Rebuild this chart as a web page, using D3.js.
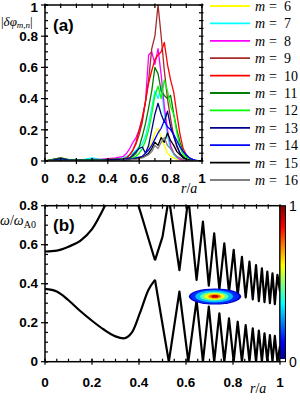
<!DOCTYPE html>
<html lang="en">
<head>
<meta charset="UTF-8">
<title>Mode amplitudes and continuum</title>
<script src="https://cdn.jsdelivr.net/npm/d3@7"></script>
<style>
    body { margin: 0; background: #fff; }
    svg { display: block; }
    .tk { font: bold 13.5px "Liberation Sans", Arial, sans-serif; fill: #000; }
    .mt { font: 14px "Liberation Serif", "DejaVu Serif", serif; fill: #000; }
</style>
</head>
<body>
<div id="chart"></div>
<script>
    // ---- panel (a): |dphi_{m,n}| versus r/a ----
    const rA = [0, 0.05, 0.1, 0.15, 0.2, 0.25, 0.3, 0.35, 0.4, 0.45,
        0.5, 0.52, 0.54, 0.56, 0.58, 0.6, 0.62, 0.64, 0.66, 0.68, 0.7, 0.72, 0.74, 0.76, 0.78,
        0.8, 0.82, 0.84, 0.86, 0.88, 0.9, 0.92, 0.94, 0.96, 0.98, 1];
    const mValues = [6, 7, 8, 9, 10, 11, 12, 13, 14, 15, 16];
    const mColors = ["#ffff00", "#00ffff", "#ff00ff", "#a52a2a", "#ff0000", "#008000",
        "#00ff00", "#00008b", "#0000ff", "#000000", "#808080"];
    const amp6 = [0, 0, 0.005, 0, 0, 0, 0.005, 0, 0, 0.005,
        0.005, 0.005, 0.01, 0.01, 0.015, 0.02, 0.03, 0.05, 0.08, 0.12, 0.18, 0.21, 0.15, 0.1, 0.05,
        0.03, 0.02, 0.01, 0.005, 0, 0, 0, 0, 0, 0, 0];
    const amp7 = [0, 0.005, 0.01, 0.005, 0.005, 0.01, 0.02, 0.01, 0.01, 0.015,
        0.02, 0.03, 0.04, 0.05, 0.07, 0.09, 0.11, 0.16, 0.24, 0.34, 0.45, 0.4, 0.48, 0.3, 0.16,
        0.08, 0.04, 0.02, 0.01, 0.005, 0, 0, 0, 0, 0, 0];
    const amp8 = [0, 0.005, 0.01, 0.005, 0.005, 0.005, 0.01, 0.01, 0.015, 0.02,
        0.03, 0.05, 0.08, 0.12, 0.15, 0.2, 0.27, 0.38, 0.68, 0.7, 0.62, 0.72, 0.55, 0.35, 0.2,
        0.1, 0.05, 0.025, 0.01, 0.005, 0, 0, 0, 0, 0, 0];
    const amp9 = [0, 0.01, 0.02, 0.005, 0.005, 0.005, 0.01, 0.005, 0.01, 0.01,
        0.015, 0.02, 0.04, 0.07, 0.11, 0.17, 0.25, 0.38, 0.52, 0.72, 0.8, 1.0, 0.8, 0.58, 0.4,
        0.27, 0.16, 0.09, 0.05, 0.025, 0.01, 0.005, 0, 0, 0, 0];
    const amp10 = [0, 0.005, 0.01, 0.005, 0.005, 0.005, 0.005, 0.005, 0.01, 0.01,
        0.01, 0.02, 0.04, 0.07, 0.12, 0.2, 0.28, 0.38, 0.5, 0.58, 0.65, 0.68, 0.7, 0.76, 0.62,
        0.52, 0.44, 0.3, 0.17, 0.08, 0.04, 0.02, 0.01, 0, 0, 0];
    const amp11 = [0, 0.01, 0.02, 0.01, 0.005, 0.005, 0.01, 0.005, 0.01, 0.01,
        0.01, 0.015, 0.02, 0.03, 0.05, 0.09, 0.16, 0.24, 0.34, 0.45, 0.6, 0.56, 0.45, 0.42, 0.4,
        0.42, 0.3, 0.2, 0.12, 0.06, 0.03, 0.015, 0.01, 0, 0, 0];
    const amp12 = [0, 0.005, 0.01, 0.005, 0.005, 0.005, 0.005, 0.005, 0.005, 0.01,
        0.01, 0.01, 0.015, 0.02, 0.03, 0.05, 0.08, 0.13, 0.2, 0.3, 0.42, 0.48, 0.4, 0.52, 0.45,
        0.35, 0.3, 0.18, 0.09, 0.04, 0.02, 0.01, 0, 0, 0, 0];
    const amp13 = [0, 0.005, 0.015, 0.005, 0.005, 0.005, 0.005, 0.005, 0.005, 0.01,
        0.01, 0.015, 0.02, 0.04, 0.06, 0.08, 0.09, 0.05, 0.1, 0.2, 0.3, 0.37, 0.3, 0.25, 0.32,
        0.22, 0.16, 0.1, 0.05, 0.025, 0.01, 0.005, 0, 0, 0, 0];
    const amp14 = [0, 0, 0.005, 0, 0, 0, 0, 0, 0.005, 0.005,
        0.005, 0.01, 0.01, 0.015, 0.02, 0.025, 0.03, 0.05, 0.07, 0.1, 0.14, 0.18, 0.21, 0.26, 0.22,
        0.2, 0.17, 0.13, 0.09, 0.06, 0.04, 0.02, 0.01, 0.005, 0, 0];
    const amp15 = [0, 0, 0, 0, 0, 0, 0, 0, 0.005, 0.005,
        0.005, 0.005, 0.01, 0.01, 0.015, 0.02, 0.025, 0.035, 0.05, 0.08, 0.12, 0.1, 0.15, 0.12, 0.18,
        0.13, 0.1, 0.06, 0.04, 0.02, 0.01, 0.005, 0, 0, 0, 0];
    const amp16 = [0, 0, 0, 0, 0, 0, 0, 0, 0, 0,
        0.005, 0.005, 0.005, 0.01, 0.01, 0.015, 0.02, 0.03, 0.04, 0.06, 0.1, 0.08, 0.12, 0.15, 0.1,
        0.08, 0.05, 0.03, 0.02, 0.01, 0.005, 0, 0, 0, 0, 0];
    const ampAll = [amp6, amp7, amp8, amp9, amp10, amp11, amp12, amp13, amp14, amp15, amp16];

    // ---- panel (b): continuum boundaries and mode intensity ----
    const rUp = [0, 0.05, 0.1, 0.15, 0.2, 0.255, 0.3, 0.35, 0.395, 0.433, 0.468, 0.5, 0.527, 0.572,
        0.61, 0.645, 0.672, 0.697, 0.72, 0.742, 0.763, 0.783, 0.803, 0.82, 0.838, 0.854, 0.87,
        0.884, 0.898, 0.91, 0.923, 0.934, 0.946, 0.957, 0.968, 0.978, 0.989, 1.0];
    const wUp = [0.565, 0.57, 0.59, 0.62, 0.68, 0.8, 0.92, 0.95, 0.81, 0.66, 0.52, 0.64, 0.84, 0.47,
        0.84, 0.42, 0.718, 0.39, 0.658, 0.37, 0.607, 0.355, 0.573, 0.34, 0.538, 0.33, 0.513,
        0.32, 0.496, 0.31, 0.479, 0.305, 0.462, 0.3, 0.453, 0.295, 0.445, 0.36];
    const rLow = [0, 0.05, 0.1, 0.15, 0.2, 0.25, 0.3, 0.335, 0.37, 0.404, 0.44, 0.468, 0.527, 0.572,
        0.61, 0.645, 0.672, 0.697, 0.72, 0.742, 0.763, 0.783, 0.803, 0.82, 0.838, 0.854, 0.87,
        0.884, 0.898, 0.91, 0.923, 0.934, 0.946, 0.957, 0.968, 0.978, 0.989, 1.0];
    const wLow = [0.373, 0.36, 0.315, 0.26, 0.21, 0.165, 0.13, 0.12, 0.15, 0.25, 0.368, 0.42, 0, 0.36,
        0, 0.316, 0, 0.282, 0, 0.248, 0, 0.222, 0, 0.205, 0, 0.188, 0,
        0.171, 0, 0.159, 0, 0.146, 0, 0.137, 0, 0.132, 0, 0.08];

    // contour levels of the mode intensity (nested, outer first)
    const blobLevel = [0.05, 0.15, 0.3, 0.45, 0.6, 0.75, 0.92];
    const blobR0 = [0.612, 0.62, 0.64, 0.66, 0.677, 0.695, 0.708];
    const blobR1 = [0.835, 0.825, 0.8, 0.78, 0.765, 0.75, 0.738];
    const blobW0 = [0.293, 0.297, 0.304, 0.312, 0.318, 0.324, 0.328];
    const blobW1 = [0.376, 0.372, 0.366, 0.358, 0.352, 0.346, 0.342];

    const jetStops = [0, 0.11, 0.36, 0.61, 0.86, 1];
    const jetColors = ["#00008f", "#0000ff", "#00ffff", "#ffff00", "#ff0000", "#800000"];
    const jet = d3.scaleLinear().domain(jetStops).range(jetColors);

    const svg = d3.select("#chart").append("svg")
        .attr("width", 300)
        .attr("height", 400);

    const defs = svg.append("defs");

    // generic tick drawing: ticks cross the frame line
    function ticks(g, vals, side, scale, pos, inLen, outLen) {
        vals.forEach(v => {
            let p = scale(v);
            let l = g.append("line").attr("stroke", "#000").attr("stroke-width", 1.2);
            if (side == "bottom") l.attr("x1", p).attr("x2", p).attr("y1", pos + outLen).attr("y2", pos - inLen);
            if (side == "top") l.attr("x1", p).attr("x2", p).attr("y1", pos - outLen).attr("y2", pos + inLen);
            if (side == "left") l.attr("y1", p).attr("y2", p).attr("x1", pos - outLen).attr("x2", pos + inLen);
            if (side == "right") l.attr("y1", p).attr("y2", p).attr("x1", pos + outLen).attr("x2", pos - inLen);
        });
    }

    function nums(a, b, step) {
        let out = [];
        for (let i = 0; a + i * step <= b + 1e-9; i++) out.push(+(a + i * step).toFixed(3));
        return out;
    }

    function fmt(v) { return v == 0 ? "0" : v == 1 ? "1" : String(v); }

    // ================= panel (a) =================
    const xA = d3.scaleLinear().domain([0, 1]).range([45, 202]);
    const yA = d3.scaleLinear().domain([0, 1]).range([161, 5]);
    const gA = svg.append("g");

    defs.append("clipPath").attr("id", "clipA").append("rect")
        .attr("x", xA(0)).attr("y", yA(1) - 1).attr("width", xA(1) - xA(0)).attr("height", yA(0) - yA(1) + 1);

    const lineA = d3.line().x((d, i) => xA(rA[i])).y(d => yA(d)).curve(d3.curveLinear);

    const linesA = gA.append("g").attr("clip-path", "url(#clipA)");
    ampAll.forEach((arr, k) => {
        linesA.append("path")
            .attr("d", lineA(arr))
            .attr("fill", "none")
            .attr("stroke", mColors[k])
            .attr("stroke-width", 1.3)
            .attr("stroke-linejoin", "round");
    });

    gA.append("rect")
        .attr("x", xA(0)).attr("y", yA(1))
        .attr("width", xA(1) - xA(0)).attr("height", yA(0) - yA(1))
        .attr("fill", "none").attr("stroke", "#000").attr("stroke-width", 1.5);

    ticks(gA, nums(0, 1, 0.1), "bottom", xA, yA(0), 3, 0);
    ticks(gA, nums(0, 1, 0.2), "bottom", xA, yA(0), 3, 3);
    ticks(gA, nums(0, 1, 0.1), "top", xA, yA(1), 3, 1.5);
    ticks(gA, nums(0, 1, 0.05), "left", yA, xA(0), 3, 0);
    ticks(gA, nums(0, 1, 0.2), "left", yA, xA(0), 3, 4);
    ticks(gA, nums(0, 1, 0.05), "right", yA, xA(1), 3, 1.5);

    nums(0, 1, 0.2).forEach(v => {
        gA.append("text").attr("class", "tk")
            .attr("x", 38).attr("y", Math.max(yA(v), 7)).attr("dy", "0.35em")
            .attr("text-anchor", "end").text(fmt(v));
        gA.append("text").attr("class", "tk")
            .attr("x", xA(v)).attr("y", 183)
            .attr("text-anchor", "middle").text(fmt(v));
    });

    gA.append("text").attr("x", 53).attr("y", 31)
        .style("font", "bold 17px 'Liberation Sans', Arial, sans-serif").text("(a)");

    const labA = gA.append("text").attr("class", "mt").attr("x", 1).attr("y", 26)
        .style("font-size", "13px");
    labA.append("tspan").text("|");
    labA.append("tspan").style("font-style", "italic").text("δφ");
    labA.append("tspan").style("font-style", "italic").style("font-size", "9px").attr("dy", 2).text("m,n");
    labA.append("tspan").attr("dy", -2).text("|");

    const rlA = gA.append("text").attr("class", "mt").attr("x", 181).attr("y", 193);
    rlA.append("tspan").style("font-style", "italic").text("r");
    rlA.append("tspan").text("/");
    rlA.append("tspan").style("font-style", "italic").text("a");

    // legend
    const leg = svg.append("g");
    mValues.forEach((m, i) => {
        let yy = 6 + i * 17.4;
        leg.append("line").attr("x1", 210).attr("x2", 250).attr("y1", yy).attr("y2", yy)
            .attr("stroke", mColors[i]).attr("stroke-width", 1.8);
        let t = leg.append("text").attr("class", "mt").attr("x", 255).attr("y", yy + 5);
        t.append("tspan").style("font-style", "italic").text("m");
        t.append("tspan").attr("x", 269).text("=");
        t.append("tspan").attr("x", 284).text(m);
    });

    // ================= panel (b) =================
    const xB = d3.scaleLinear().domain([0, 1]).range([45, 280]);
    const yB = d3.scaleLinear().domain([0, 0.8]).range([361.7, 205.7]);
    const gB = svg.append("g");

    defs.append("clipPath").attr("id", "clipB").append("rect")
        .attr("x", xB(0)).attr("y", yB(0.8)).attr("width", xB(1) - xB(0)).attr("height", yB(0) - yB(0.8));

    const plotB = gB.append("g").attr("clip-path", "url(#clipB)");

    const smoothLine = d3.line().x(d => xB(d[0])).y(d => yB(d[1])).curve(d3.curveMonotoneX);
    const zigLine = d3.line().x(d => xB(d[0])).y(d => yB(d[1])).curve(d3.curveLinear);

    [[rUp, wUp], [rLow, wLow]].forEach(([rr, ww]) => {
        let pts = rr.map((r, i) => [r, ww[i]]);
        plotB.append("path").attr("d", smoothLine(pts.filter(p => p[0] <= 0.468)))
            .attr("fill", "none").attr("stroke", "#000").attr("stroke-width", 2.2);
        plotB.append("path").attr("d", zigLine(pts.filter(p => p[0] >= 0.468)))
            .attr("fill", "none").attr("stroke", "#000").attr("stroke-width", 2.2)
            .attr("stroke-linejoin", "round");
    });

    blobLevel.forEach((lv, i) => {
        plotB.append("ellipse")
            .attr("cx", (xB(blobR0[i]) + xB(blobR1[i])) / 2)
            .attr("cy", (yB(blobW0[i]) + yB(blobW1[i])) / 2)
            .attr("rx", (xB(blobR1[i]) - xB(blobR0[i])) / 2)
            .attr("ry", (yB(blobW0[i]) - yB(blobW1[i])) / 2)
            .attr("fill", jet(lv));
    });

    gB.append("rect")
        .attr("x", xB(0)).attr("y", yB(0.8))
        .attr("width", xB(1) - xB(0)).attr("height", yB(0) - yB(0.8))
        .attr("fill", "none").attr("stroke", "#000").attr("stroke-width", 1.5);

    ticks(gB, nums(0, 1, 0.05), "bottom", xB, yB(0), 3, 0);
    ticks(gB, nums(0, 1, 0.2), "bottom", xB, yB(0), 3, 3);
    ticks(gB, nums(0, 1, 0.05), "top", xB, yB(0.8), 3, 1.5);
    ticks(gB, nums(0, 0.8, 0.05), "left", yB, xB(0), 3, 0);
    ticks(gB, nums(0, 0.8, 0.2), "left", yB, xB(0), 3, 4);

    nums(0, 0.8, 0.2).forEach(v => {
        gB.append("text").attr("class", "tk")
            .attr("x", 38).attr("y", yB(v)).attr("dy", "0.35em")
            .attr("text-anchor", "end").text(fmt(v));
    });
    nums(0, 1, 0.2).forEach(v => {
        gB.append("text").attr("class", "tk")
            .attr("x", xB(v)).attr("y", 387)
            .attr("text-anchor", "middle").text(fmt(v));
    });

    gB.append("text").attr("x", 53).attr("y", 231)
        .style("font", "bold 17px 'Liberation Sans', Arial, sans-serif").text("(b)");

    const labB = gB.append("text").attr("class", "mt").attr("x", 0).attr("y", 225);
    labB.append("tspan").style("font-style", "italic").text("ω");
    labB.append("tspan").text("/");
    labB.append("tspan").style("font-style", "italic").text("ω");
    labB.append("tspan").style("font-size", "10px").attr("dy", 3).text("A0");

    const rlB = gB.append("text").attr("class", "mt").attr("x", 250).attr("y", 393);
    rlB.append("tspan").style("font-style", "italic").text("r");
    rlB.append("tspan").text("/");
    rlB.append("tspan").style("font-style", "italic").text("a");

    // colour bar
    const grad = defs.append("linearGradient").attr("id", "jetGrad")
        .attr("x1", 0).attr("x2", 0).attr("y1", 1).attr("y2", 0);
    grad.append("stop").attr("offset", 0).attr("stop-color", "#fff");
    grad.append("stop").attr("offset", 0.018).attr("stop-color", "#fff");
    jetStops.forEach((s, i) => {
        grad.append("stop").attr("offset", 0.018 + s * 0.982).attr("stop-color", jetColors[i]);
    });
    gB.append("rect")
        .attr("x", xB(1)).attr("y", yB(0.8))
        .attr("width", 5.5).attr("height", yB(0) - yB(0.8))
        .attr("fill", "url(#jetGrad)").attr("stroke", "#000").attr("stroke-width", 1);
    [["1", yB(0.8)], ["0", yB(0)]].forEach(([t, yy]) => {
        gB.append("text").attr("x", 289).attr("y", yy).attr("dy", "0.35em")
            .style("font", "14px 'Liberation Sans', Arial, sans-serif").text(t);
    });
</script>
</body>
</html>
